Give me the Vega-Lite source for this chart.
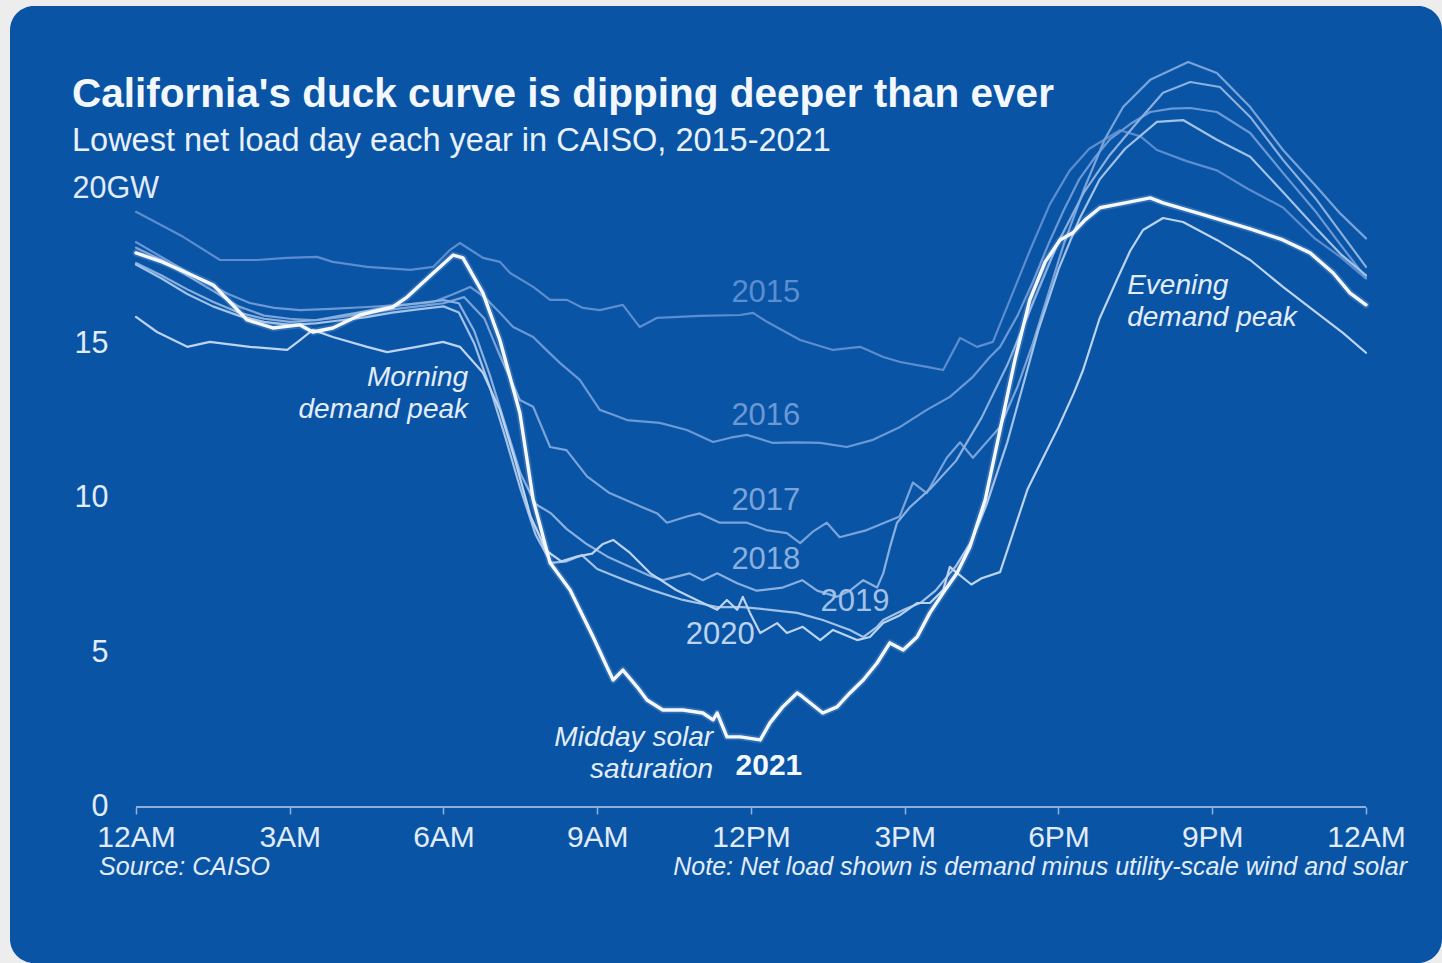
{
"$schema": "https://vega.github.io/schema/vega-lite/v6.json",
"width": 1432, "height": 957,
"autosize": {"type": "none"},
"padding": {"left": 10, "top": 6, "right": 0, "bottom": 0},
"background": "#ededed",
"config": {"view": {"fill": "#0a54a6", "stroke": null, "cornerRadius": 24}, "font": "Liberation Sans"},
"title": {"text": "California's duck curve is dipping deeper than ever", "subtitle": "Lowest net load day each year in CAISO, 2015-2021", "anchor": "start", "frame": "group", "orient": "top", "offset": 0, "dx": 62, "dy": 151, "font": "Liberation Sans", "fontSize": 40.5, "fontWeight": "bold", "color": "#f3f8fe", "subtitleFont": "Liberation Sans", "subtitleFontSize": 32.5, "subtitleColor": "#e9f1fb", "subtitlePadding": 9},
"datasets": {
"lines": [
{"year":"2015","hour":0,"gw":19.26},{"year":"2015","hour":0.92,"gw":18.45},{"year":"2015","hour":1.64,"gw":17.7},{"year":"2015","hour":2.36,"gw":17.7},{"year":"2015","hour":2.95,"gw":17.77},{"year":"2015","hour":3.53,"gw":17.8},{"year":"2015","hour":3.84,"gw":17.64},{"year":"2015","hour":4.51,"gw":17.48},{"year":"2015","hour":5.35,"gw":17.38},{"year":"2015","hour":5.8,"gw":17.48},{"year":"2015","hour":6.13,"gw":18.03},{"year":"2015","hour":6.32,"gw":18.25},{"year":"2015","hour":6.77,"gw":17.77},{"year":"2015","hour":7.1,"gw":17.64},{"year":"2015","hour":7.3,"gw":17.28},{"year":"2015","hour":7.75,"gw":16.83},{"year":"2015","hour":8.08,"gw":16.41},{"year":"2015","hour":8.41,"gw":16.41},{"year":"2015","hour":8.72,"gw":16.15},{"year":"2015","hour":9.05,"gw":16.08},{"year":"2015","hour":9.5,"gw":16.25},{"year":"2015","hour":9.83,"gw":15.53},{"year":"2015","hour":10.17,"gw":15.83},{"year":"2015","hour":11.0,"gw":15.89},{"year":"2015","hour":11.79,"gw":15.92},{"year":"2015","hour":12.04,"gw":15.99},{"year":"2015","hour":12.31,"gw":15.7},{"year":"2015","hour":12.96,"gw":15.11},{"year":"2015","hour":13.6,"gw":14.79},{"year":"2015","hour":14.13,"gw":14.89},{"year":"2015","hour":14.58,"gw":14.56},{"year":"2015","hour":14.91,"gw":14.4},{"year":"2015","hour":15.43,"gw":14.24},{"year":"2015","hour":15.75,"gw":14.14},{"year":"2015","hour":16.08,"gw":15.18},{"year":"2015","hour":16.41,"gw":14.89},{"year":"2015","hour":16.72,"gw":15.05},{"year":"2015","hour":17.05,"gw":16.4},{"year":"2015","hour":17.44,"gw":18.0},{"year":"2015","hour":17.83,"gw":19.5},{"year":"2015","hour":18.22,"gw":20.6},{"year":"2015","hour":18.6,"gw":21.3},{"year":"2015","hour":18.9,"gw":21.6},{"year":"2015","hour":19.2,"gw":21.9},{"year":"2015","hour":19.6,"gw":21.7},{"year":"2015","hour":19.92,"gw":21.26},{"year":"2015","hour":20.5,"gw":20.9},{"year":"2015","hour":21.09,"gw":20.6},{"year":"2015","hour":21.7,"gw":20.0},{"year":"2015","hour":22.38,"gw":19.4},{"year":"2015","hour":23.0,"gw":18.4},{"year":"2015","hour":23.5,"gw":17.8},{"year":"2015","hour":24,"gw":17.1},
{"year":"2016","hour":0,"gw":18.28},{"year":"2016","hour":0.6,"gw":17.7},{"year":"2016","hour":1.25,"gw":17.06},{"year":"2016","hour":1.8,"gw":16.6},{"year":"2016","hour":2.22,"gw":16.31},{"year":"2016","hour":2.7,"gw":16.15},{"year":"2016","hour":3.2,"gw":16.08},{"year":"2016","hour":3.8,"gw":16.12},{"year":"2016","hour":4.51,"gw":16.18},{"year":"2016","hour":5.2,"gw":16.25},{"year":"2016","hour":5.8,"gw":16.34},{"year":"2016","hour":6.2,"gw":16.6},{"year":"2016","hour":6.52,"gw":16.83},{"year":"2016","hour":6.8,"gw":16.5},{"year":"2016","hour":7.1,"gw":15.99},{"year":"2016","hour":7.36,"gw":15.53},{"year":"2016","hour":7.75,"gw":15.21},{"year":"2016","hour":8.0,"gw":14.8},{"year":"2016","hour":8.27,"gw":14.37},{"year":"2016","hour":8.66,"gw":13.82},{"year":"2016","hour":9.05,"gw":12.85},{"year":"2016","hour":9.3,"gw":12.7},{"year":"2016","hour":9.58,"gw":12.52},{"year":"2016","hour":10.22,"gw":12.43},{"year":"2016","hour":10.75,"gw":12.2},{"year":"2016","hour":11.26,"gw":11.81},{"year":"2016","hour":11.6,"gw":11.95},{"year":"2016","hour":11.92,"gw":12.04},{"year":"2016","hour":12.43,"gw":11.78},{"year":"2016","hour":12.9,"gw":11.8},{"year":"2016","hour":13.35,"gw":11.78},{"year":"2016","hour":13.87,"gw":11.65},{"year":"2016","hour":14.38,"gw":11.88},{"year":"2016","hour":14.91,"gw":12.3},{"year":"2016","hour":15.43,"gw":12.85},{"year":"2016","hour":15.88,"gw":13.27},{"year":"2016","hour":16.33,"gw":13.92},{"year":"2016","hour":16.66,"gw":14.56},{"year":"2016","hour":16.86,"gw":14.89},{"year":"2016","hour":17.2,"gw":15.9},{"year":"2016","hour":17.5,"gw":17.0},{"year":"2016","hour":17.8,"gw":18.2},{"year":"2016","hour":18.1,"gw":19.3},{"year":"2016","hour":18.4,"gw":20.3},{"year":"2016","hour":18.7,"gw":21.0},{"year":"2016","hour":19.0,"gw":21.6},{"year":"2016","hour":19.4,"gw":22.1},{"year":"2016","hour":19.79,"gw":22.49},{"year":"2016","hour":20.2,"gw":22.6},{"year":"2016","hour":20.57,"gw":22.62},{"year":"2016","hour":21.09,"gw":22.49},{"year":"2016","hour":21.74,"gw":21.81},{"year":"2016","hour":22.38,"gw":20.52},{"year":"2016","hour":23.04,"gw":19.22},{"year":"2016","hour":23.5,"gw":18.2},{"year":"2016","hour":24,"gw":17.12},
{"year":"2017","hour":0,"gw":18.1},{"year":"2017","hour":0.5,"gw":17.7},{"year":"2017","hour":1,"gw":17.2},{"year":"2017","hour":1.5,"gw":16.7},{"year":"2017","hour":2,"gw":16.2},{"year":"2017","hour":2.5,"gw":15.9},{"year":"2017","hour":3,"gw":15.8},{"year":"2017","hour":3.5,"gw":15.75},{"year":"2017","hour":4,"gw":15.85},{"year":"2017","hour":4.5,"gw":16.0},{"year":"2017","hour":5,"gw":16.1},{"year":"2017","hour":5.5,"gw":16.2},{"year":"2017","hour":6,"gw":16.3},{"year":"2017","hour":6.4,"gw":16.5},{"year":"2017","hour":6.8,"gw":15.8},{"year":"2017","hour":7.1,"gw":14.6},{"year":"2017","hour":7.49,"gw":13.17},{"year":"2017","hour":7.75,"gw":12.95},{"year":"2017","hour":8.08,"gw":11.65},{"year":"2017","hour":8.4,"gw":11.55},{"year":"2017","hour":8.8,"gw":10.7},{"year":"2017","hour":9.24,"gw":10.16},{"year":"2017","hour":9.6,"gw":9.9},{"year":"2017","hour":9.88,"gw":9.7},{"year":"2017","hour":10.17,"gw":9.5},{"year":"2017","hour":10.36,"gw":9.2},{"year":"2017","hour":10.75,"gw":9.4},{"year":"2017","hour":11.0,"gw":9.5},{"year":"2017","hour":11.39,"gw":9.2},{"year":"2017","hour":11.92,"gw":9.2},{"year":"2017","hour":12.3,"gw":8.96},{"year":"2017","hour":12.7,"gw":8.86},{"year":"2017","hour":12.96,"gw":8.54},{"year":"2017","hour":13.2,"gw":8.9},{"year":"2017","hour":13.48,"gw":9.2},{"year":"2017","hour":13.73,"gw":8.73},{"year":"2017","hour":14.26,"gw":8.96},{"year":"2017","hour":14.9,"gw":9.4},{"year":"2017","hour":15.16,"gw":10.5},{"year":"2017","hour":15.43,"gw":10.16},{"year":"2017","hour":15.82,"gw":11.3},{"year":"2017","hour":16.08,"gw":11.8},{"year":"2017","hour":16.33,"gw":11.3},{"year":"2017","hour":16.86,"gw":12.3},{"year":"2017","hour":17.2,"gw":13.6},{"year":"2017","hour":17.5,"gw":15.0},{"year":"2017","hour":17.8,"gw":16.6},{"year":"2017","hour":18.1,"gw":18.2},{"year":"2017","hour":18.5,"gw":20.0},{"year":"2017","hour":18.9,"gw":21.6},{"year":"2017","hour":19.26,"gw":22.65},{"year":"2017","hour":19.79,"gw":23.53},{"year":"2017","hour":20.53,"gw":24.11},{"year":"2017","hour":21.09,"gw":23.75},{"year":"2017","hour":21.74,"gw":22.65},{"year":"2017","hour":22.38,"gw":21.26},{"year":"2017","hour":23.04,"gw":20.06},{"year":"2017","hour":23.5,"gw":19.2},{"year":"2017","hour":24,"gw":18.4},
{"year":"2018","hour":0,"gw":17.6},{"year":"2018","hour":0.5,"gw":17.2},{"year":"2018","hour":1,"gw":16.75},{"year":"2018","hour":1.5,"gw":16.35},{"year":"2018","hour":2,"gw":16.0},{"year":"2018","hour":2.5,"gw":15.8},{"year":"2018","hour":3,"gw":15.7},{"year":"2018","hour":3.5,"gw":15.75},{"year":"2018","hour":4,"gw":15.9},{"year":"2018","hour":4.5,"gw":16.05},{"year":"2018","hour":5,"gw":16.2},{"year":"2018","hour":5.5,"gw":16.3},{"year":"2018","hour":6,"gw":16.4},{"year":"2018","hour":6.3,"gw":16.3},{"year":"2018","hour":6.6,"gw":15.4},{"year":"2018","hour":6.9,"gw":14.0},{"year":"2018","hour":7.2,"gw":12.4},{"year":"2018","hour":7.5,"gw":10.8},{"year":"2018","hour":7.8,"gw":9.8},{"year":"2018","hour":8.1,"gw":9.5},{"year":"2018","hour":8.4,"gw":9.0},{"year":"2018","hour":8.8,"gw":8.5},{"year":"2018","hour":9.2,"gw":8.1},{"year":"2018","hour":9.6,"gw":7.8},{"year":"2018","hour":10.0,"gw":7.5},{"year":"2018","hour":10.28,"gw":7.34},{"year":"2018","hour":10.8,"gw":7.56},{"year":"2018","hour":11.06,"gw":7.34},{"year":"2018","hour":11.34,"gw":7.56},{"year":"2018","hour":11.73,"gw":7.24},{"year":"2018","hour":12.11,"gw":7.0},{"year":"2018","hour":12.62,"gw":7.1},{"year":"2018","hour":13.0,"gw":7.34},{"year":"2018","hour":13.29,"gw":7.0},{"year":"2018","hour":13.68,"gw":6.8},{"year":"2018","hour":13.93,"gw":7.0},{"year":"2018","hour":14.19,"gw":7.34},{"year":"2018","hour":14.46,"gw":7.1},{"year":"2018","hour":14.58,"gw":7.56},{"year":"2018","hour":14.71,"gw":8.4},{"year":"2018","hour":14.85,"gw":9.2},{"year":"2018","hour":15.1,"gw":9.7},{"year":"2018","hour":15.5,"gw":10.3},{"year":"2018","hour":16.0,"gw":11.2},{"year":"2018","hour":16.5,"gw":12.6},{"year":"2018","hour":17.0,"gw":14.3},{"year":"2018","hour":17.5,"gw":16.3},{"year":"2018","hour":18.0,"gw":18.3},{"year":"2018","hour":18.5,"gw":19.9},{"year":"2018","hour":19.0,"gw":21.1},{"year":"2018","hour":19.53,"gw":22.14},{"year":"2018","hour":20.04,"gw":23.11},{"year":"2018","hour":20.57,"gw":23.46},{"year":"2018","hour":21.15,"gw":23.3},{"year":"2018","hour":21.74,"gw":22.33},{"year":"2018","hour":22.38,"gw":20.94},{"year":"2018","hour":23.04,"gw":19.64},{"year":"2018","hour":23.5,"gw":18.6},{"year":"2018","hour":24,"gw":17.48},
{"year":"2019","hour":0,"gw":17.55},{"year":"2019","hour":0.5,"gw":17.1},{"year":"2019","hour":1,"gw":16.6},{"year":"2019","hour":1.5,"gw":16.2},{"year":"2019","hour":2,"gw":15.9},{"year":"2019","hour":2.5,"gw":15.7},{"year":"2019","hour":3,"gw":15.6},{"year":"2019","hour":3.5,"gw":15.65},{"year":"2019","hour":4,"gw":15.75},{"year":"2019","hour":4.5,"gw":15.85},{"year":"2019","hour":5,"gw":16.0},{"year":"2019","hour":5.5,"gw":16.1},{"year":"2019","hour":6,"gw":16.2},{"year":"2019","hour":6.3,"gw":16.0},{"year":"2019","hour":6.6,"gw":15.0},{"year":"2019","hour":6.9,"gw":13.6},{"year":"2019","hour":7.2,"gw":12.0},{"year":"2019","hour":7.5,"gw":10.3},{"year":"2019","hour":7.8,"gw":8.8},{"year":"2019","hour":8.1,"gw":7.9},{"year":"2019","hour":8.4,"gw":7.95},{"year":"2019","hour":8.7,"gw":8.15},{"year":"2019","hour":9.0,"gw":7.7},{"year":"2019","hour":9.3,"gw":7.5},{"year":"2019","hour":9.6,"gw":7.3},{"year":"2019","hour":10.1,"gw":7.0},{"year":"2019","hour":10.67,"gw":6.7},{"year":"2019","hour":11.34,"gw":6.47},{"year":"2019","hour":11.84,"gw":6.47},{"year":"2019","hour":12.37,"gw":6.38},{"year":"2019","hour":12.9,"gw":6.28},{"year":"2019","hour":13.4,"gw":6.05},{"year":"2019","hour":13.93,"gw":5.73},{"year":"2019","hour":14.19,"gw":5.5},{"year":"2019","hour":14.46,"gw":5.83},{"year":"2019","hour":14.58,"gw":6.05},{"year":"2019","hour":15.0,"gw":6.4},{"year":"2019","hour":15.3,"gw":6.6},{"year":"2019","hour":15.6,"gw":7.0},{"year":"2019","hour":16.0,"gw":7.8},{"year":"2019","hour":16.3,"gw":8.6},{"year":"2019","hour":16.6,"gw":9.8},{"year":"2019","hour":17.0,"gw":11.8},{"year":"2019","hour":17.3,"gw":13.6},{"year":"2019","hour":17.6,"gw":15.4},{"year":"2019","hour":18.0,"gw":17.4},{"year":"2019","hour":18.4,"gw":19.0},{"year":"2019","hour":18.8,"gw":20.3},{"year":"2019","hour":19.3,"gw":21.3},{"year":"2019","hour":19.92,"gw":22.17},{"year":"2019","hour":20.43,"gw":22.23},{"year":"2019","hour":21.09,"gw":21.59},{"year":"2019","hour":21.74,"gw":21.04},{"year":"2019","hour":22.38,"gw":19.9},{"year":"2019","hour":23.04,"gw":18.7},{"year":"2019","hour":23.5,"gw":17.9},{"year":"2019","hour":24,"gw":17.2},
{"year":"2020","hour":0,"gw":15.86},{"year":"2020","hour":0.41,"gw":15.37},{"year":"2020","hour":1.0,"gw":14.89},{"year":"2020","hour":1.44,"gw":15.05},{"year":"2020","hour":2.22,"gw":14.89},{"year":"2020","hour":2.95,"gw":14.79},{"year":"2020","hour":3.2,"gw":15.11},{"year":"2020","hour":3.45,"gw":15.44},{"year":"2020","hour":3.84,"gw":15.21},{"year":"2020","hour":4.51,"gw":14.89},{"year":"2020","hour":4.9,"gw":14.72},{"year":"2020","hour":5.48,"gw":14.89},{"year":"2020","hour":5.99,"gw":15.05},{"year":"2020","hour":6.32,"gw":14.89},{"year":"2020","hour":6.77,"gw":14.05},{"year":"2020","hour":7.1,"gw":12.85},{"year":"2020","hour":7.4,"gw":11.2},{"year":"2020","hour":7.7,"gw":9.4},{"year":"2020","hour":8.0,"gw":8.3},{"year":"2020","hour":8.3,"gw":7.95},{"year":"2020","hour":8.6,"gw":8.1},{"year":"2020","hour":8.9,"gw":8.2},{"year":"2020","hour":9.1,"gw":8.5},{"year":"2020","hour":9.31,"gw":8.64},{"year":"2020","hour":9.64,"gw":8.22},{"year":"2020","hour":10.03,"gw":7.57},{"year":"2020","hour":10.54,"gw":7.02},{"year":"2020","hour":10.94,"gw":6.7},{"year":"2020","hour":11.34,"gw":6.38},{"year":"2020","hour":11.53,"gw":6.7},{"year":"2020","hour":11.73,"gw":6.38},{"year":"2020","hour":11.84,"gw":6.8},{"year":"2020","hour":11.98,"gw":6.28},{"year":"2020","hour":12.18,"gw":5.63},{"year":"2020","hour":12.51,"gw":5.95},{"year":"2020","hour":12.7,"gw":5.63},{"year":"2020","hour":13.01,"gw":5.83},{"year":"2020","hour":13.35,"gw":5.4},{"year":"2020","hour":13.6,"gw":5.73},{"year":"2020","hour":14.07,"gw":5.4},{"year":"2020","hour":14.32,"gw":5.5},{"year":"2020","hour":14.58,"gw":5.95},{"year":"2020","hour":14.9,"gw":6.2},{"year":"2020","hour":15.24,"gw":6.6},{"year":"2020","hour":15.49,"gw":6.6},{"year":"2020","hour":15.75,"gw":7.02},{"year":"2020","hour":15.88,"gw":7.77},{"year":"2020","hour":16.0,"gw":7.6},{"year":"2020","hour":16.3,"gw":7.2},{"year":"2020","hour":16.5,"gw":7.4},{"year":"2020","hour":16.86,"gw":7.6},{"year":"2020","hour":17.1,"gw":8.8},{"year":"2020","hour":17.4,"gw":10.3},{"year":"2020","hour":17.7,"gw":11.3},{"year":"2020","hour":18.0,"gw":12.3},{"year":"2020","hour":18.3,"gw":13.4},{"year":"2020","hour":18.48,"gw":14.14},{"year":"2020","hour":18.8,"gw":15.8},{"year":"2020","hour":19.14,"gw":17.06},{"year":"2020","hour":19.4,"gw":18.0},{"year":"2020","hour":19.65,"gw":18.67},{"year":"2020","hour":20.04,"gw":19.06},{"year":"2020","hour":20.43,"gw":18.93},{"year":"2020","hour":21.09,"gw":18.35},{"year":"2020","hour":21.74,"gw":17.7},{"year":"2020","hour":22.38,"gw":16.83},{"year":"2020","hour":23.04,"gw":15.99},{"year":"2020","hour":23.55,"gw":15.34},{"year":"2020","hour":24,"gw":14.7},
{"year":"2021","hour":0,"gw":17.93},{"year":"2021","hour":0.51,"gw":17.64},{"year":"2021","hour":1.0,"gw":17.28},{"year":"2021","hour":1.51,"gw":16.89},{"year":"2021","hour":2.17,"gw":15.76},{"year":"2021","hour":2.67,"gw":15.5},{"year":"2021","hour":3.2,"gw":15.6},{"year":"2021","hour":3.45,"gw":15.37},{"year":"2021","hour":3.84,"gw":15.5},{"year":"2021","hour":4.37,"gw":15.92},{"year":"2021","hour":5.01,"gw":16.18},{"year":"2021","hour":5.29,"gw":16.5},{"year":"2021","hour":5.8,"gw":17.28},{"year":"2021","hour":6.19,"gw":17.86},{"year":"2021","hour":6.38,"gw":17.77},{"year":"2021","hour":6.77,"gw":16.63},{"year":"2021","hour":7.1,"gw":15.11},{"year":"2021","hour":7.49,"gw":12.75},{"year":"2021","hour":7.75,"gw":9.94},{"year":"2021","hour":8.08,"gw":7.9},{"year":"2021","hour":8.47,"gw":7.02},{"year":"2021","hour":8.92,"gw":5.5},{"year":"2021","hour":9.19,"gw":4.53},{"year":"2021","hour":9.31,"gw":4.11},{"year":"2021","hour":9.5,"gw":4.43},{"year":"2021","hour":9.78,"gw":3.88},{"year":"2021","hour":9.97,"gw":3.46},{"year":"2021","hour":10.28,"gw":3.14},{"year":"2021","hour":10.67,"gw":3.14},{"year":"2021","hour":11.06,"gw":3.04},{"year":"2021","hour":11.26,"gw":2.82},{"year":"2021","hour":11.34,"gw":3.04},{"year":"2021","hour":11.53,"gw":2.27},{"year":"2021","hour":11.79,"gw":2.27},{"year":"2021","hour":12.18,"gw":2.17},{"year":"2021","hour":12.37,"gw":2.72},{"year":"2021","hour":12.62,"gw":3.24},{"year":"2021","hour":12.9,"gw":3.69},{"year":"2021","hour":13.01,"gw":3.56},{"year":"2021","hour":13.4,"gw":3.04},{"year":"2021","hour":13.68,"gw":3.24},{"year":"2021","hour":13.93,"gw":3.69},{"year":"2021","hour":14.19,"gw":4.11},{"year":"2021","hour":14.46,"gw":4.66},{"year":"2021","hour":14.71,"gw":5.31},{"year":"2021","hour":14.97,"gw":5.08},{"year":"2021","hour":15.24,"gw":5.5},{"year":"2021","hour":15.49,"gw":6.28},{"year":"2021","hour":15.75,"gw":6.93},{"year":"2021","hour":16.02,"gw":7.57},{"year":"2021","hour":16.27,"gw":8.41},{"year":"2021","hour":16.57,"gw":9.94},{"year":"2021","hour":16.86,"gw":12.2},{"year":"2021","hour":17.15,"gw":14.47},{"year":"2021","hour":17.44,"gw":16.41},{"year":"2021","hour":17.74,"gw":17.64},{"year":"2021","hour":18.03,"gw":18.35},{"year":"2021","hour":18.28,"gw":18.58},{"year":"2021","hour":18.52,"gw":19.0},{"year":"2021","hour":18.81,"gw":19.39},{"year":"2021","hour":19.3,"gw":19.55},{"year":"2021","hour":19.79,"gw":19.71},{"year":"2021","hour":20.04,"gw":19.55},{"year":"2021","hour":20.82,"gw":19.17},{"year":"2021","hour":21.74,"gw":18.71},{"year":"2021","hour":22.38,"gw":18.35},{"year":"2021","hour":22.91,"gw":17.93},{"year":"2021","hour":23.36,"gw":17.28},{"year":"2021","hour":23.69,"gw":16.63},{"year":"2021","hour":24,"gw":16.25}
],
"yearLabels": [
{"year":"2015","label":"2015","hour":12.29,"gw":16.63},
{"year":"2016","label":"2016","hour":12.29,"gw":12.65},
{"year":"2017","label":"2017","hour":12.29,"gw":9.9},
{"year":"2018","label":"2018","hour":12.29,"gw":7.99},
{"year":"2019","label":"2019","hour":14.03,"gw":6.63},
{"year":"2020","label":"2020","hour":11.4,"gw":5.57}
],
"label2021": [{"label":"2021","hour":12.35,"gw":1.33}],
"annRight": [
{"label":"Morning","hour":6.48,"gw":13.88},
{"label":"demand peak","hour":6.48,"gw":12.85},
{"label":"Midday solar","hour":11.26,"gw":2.23},
{"label":"saturation","hour":11.26,"gw":1.2}
],
"annLeft": [
{"label":"Evening","hour":19.34,"gw":16.86},
{"label":"demand peak","hour":19.34,"gw":15.83}
],
"source": [{"label":"Source: CAISO","hour":-0.72,"gw":-1.94}],
"note": [{"label":"Note: Net load shown is demand minus utility-scale wind and solar","hour":24.8,"gw":-1.94}],
"baseline": [{"hour":0,"hour2":24,"gw":0}]
},
"encoding": {
"x": {"field":"hour","type":"quantitative","scale":{"domain":[-2.4585,25.483],"nice":false,"zero":false},
 "axis":{"orient":"bottom","offset":-156,"domain":false,"grid":false,"values":[0,3,6,9,12,15,18,21,24],
 "labelExpr":"['12AM','3AM','6AM','9AM','12PM','3PM','6PM','9PM','12AM'][round(datum.value/3)]",
 "tickColor":"#8fb0dd","tickSize":7,"tickWidth":1.5,"labelColor":"#e2ecf9","labelFontSize":30,"labelFont":"Liberation Sans","labelPadding":8,"labelAngle":0,"title":null,"labelFlush":false,"labelOverlap":false,"labelBound":false}},
"y": {"field":"gw","type":"quantitative","scale":{"domain":[-5.049,25.92],"nice":false,"zero":false},
 "axis":{"orient":"left","offset":-98,"domain":false,"ticks":false,"tickSize":0,"grid":false,"values":[0,5,10,15,20],
 "labelExpr":"datum.value == 20 ? '20GW' : datum.label",
 "labelAlign":{"condition":{"test":"datum.value == 20","value":"left"},"value":"right"},
 "labelPadding":{"condition":{"test":"datum.value == 20","value":36},"value":0},
 "labelColor":"#e2ecf9","labelFontSize":30.5,"labelFont":"Liberation Sans","labelBaseline":"middle","title":null,"labelFlush":false,"labelOverlap":false,"labelBound":false}}
},
"layer": [
{"data":{"name":"baseline"},"mark":{"type":"rule","color":"#8fb0dd","strokeWidth":2},"encoding":{"x2":{"field":"hour2"}}},
{"data":{"name":"lines"},"transform":[{"filter":"datum.year != '2021'"}],"mark":{"type":"line","interpolate":"linear","strokeJoin":"round","strokeCap":"round","strokeWidth":2.2},
 "encoding":{
  "color":{"field":"year","type":"nominal","scale":{"domain":["2015","2016","2017","2018","2019","2020","2021"],"range":["#5b8dcf","#6a99d5","#79a4da","#89b0df","#a2c2e7","#bcd4ef","#f5f9fe"]},"legend":null},
  "order":{"field":"hour","type":"quantitative"}
 }},
{"data":{"name":"lines"},"transform":[{"filter":"datum.year == '2021'"}],"mark":{"type":"line","interpolate":"linear","strokeJoin":"round","strokeCap":"round","strokeWidth":7,"color":"#ffffff","opacity":0.15},
 "encoding":{"order":{"field":"hour","type":"quantitative"}}},
{"data":{"name":"lines"},"transform":[{"filter":"datum.year == '2021'"}],"mark":{"type":"line","interpolate":"linear","strokeJoin":"round","strokeCap":"round","strokeWidth":3.4,"color":"#f5f9fe"},
 "encoding":{"order":{"field":"hour","type":"quantitative"}}},
{"data":{"name":"yearLabels"},"mark":{"type":"text","fontSize":31,"align":"center","baseline":"middle","font":"Liberation Sans"},
 "encoding":{"text":{"field":"label"},"color":{"field":"year","type":"nominal","legend":null}}},
{"data":{"name":"label2021"},"mark":{"type":"text","fontSize":30,"fontWeight":"bold","align":"center","baseline":"middle","color":"#f5f9fe","font":"Liberation Sans"},
 "encoding":{"text":{"field":"label"}}},
{"data":{"name":"annRight"},"mark":{"type":"text","fontSize":28,"fontStyle":"italic","align":"right","baseline":"middle","color":"#e3edf9","font":"Liberation Sans"},
 "encoding":{"text":{"field":"label"}}},
{"data":{"name":"annLeft"},"mark":{"type":"text","fontSize":28,"fontStyle":"italic","align":"left","baseline":"middle","color":"#e3edf9","font":"Liberation Sans"},
 "encoding":{"text":{"field":"label"}}},
{"data":{"name":"source"},"mark":{"type":"text","fontSize":25,"fontStyle":"italic","align":"left","baseline":"middle","color":"#e3edf9","font":"Liberation Sans"},
 "encoding":{"text":{"field":"label"}}},
{"data":{"name":"note"},"mark":{"type":"text","fontSize":25,"fontStyle":"italic","align":"right","baseline":"middle","color":"#e3edf9","font":"Liberation Sans"},
 "encoding":{"text":{"field":"label"}}}
]
}
